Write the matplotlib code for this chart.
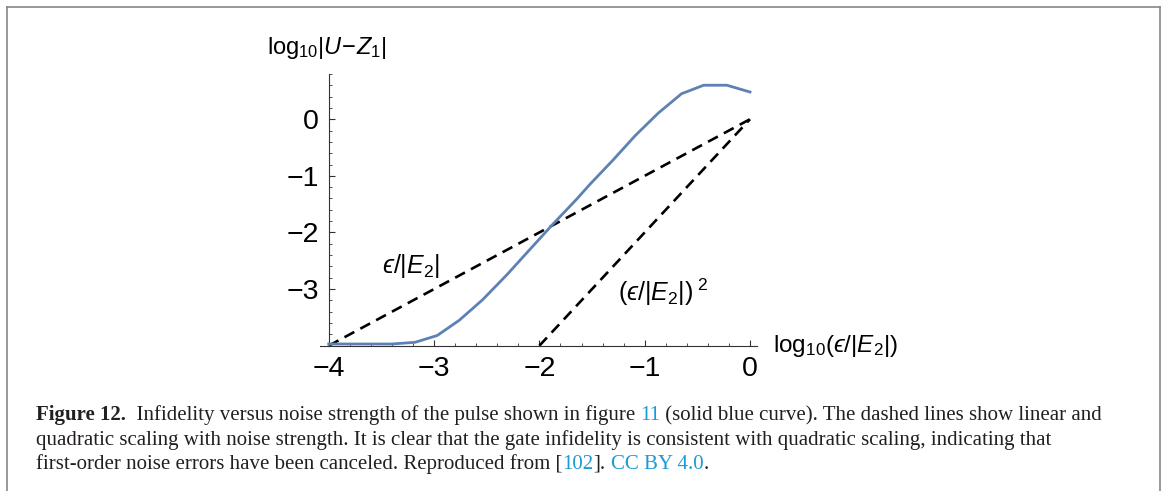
import numpy as np
import matplotlib.pyplot as plt
from matplotlib.lines import Line2D

plt.rcParams['font.family'] = ['Liberation Sans', 'DejaVu Sans']
plt.rcParams['mathtext.fontset'] = 'custom'
plt.rcParams['mathtext.rm'] = 'Liberation Sans'
plt.rcParams['mathtext.it'] = 'Liberation Sans:italic'
plt.rcParams['mathtext.fallback'] = 'stixsans'

# infidelity of the pulse (blue curve)
log_eps = [-4.0, -3.83, -3.62, -3.40, -3.18, -2.97, -2.76, -2.54, -2.31,
           -2.09, -1.87, -1.65, -1.52, -1.30, -1.09, -0.87, -0.65, -0.44,
           -0.22, 0.0]
log_infid = [-3.97, -3.97, -3.97, -3.97, -3.94, -3.82, -3.55, -3.19, -2.75,
             -2.30, -1.85, -1.42, -1.15, -0.72, -0.29, 0.11, 0.45, 0.60,
             0.60, 0.48]

# reference scalings
lin_x = [-4.0, 0.0]
lin_y = [-4.0, 0.0]
quad_x = [-2.0, 0.0]
quad_y = [-4.0, 0.0]

x_ticks = [-4, -3, -2, -1, 0]
y_ticks = [-3, -2, -1, 0]

EPS = '\u03f5'

W, H = 1165, 491
fig = plt.figure(figsize=(W / 100, H / 100), dpi=100)

# axes placed in pixel units
x0, x1 = 320.3, 757.4
y0, y1 = 73.9, 345.7
ax = fig.add_axes([x0 / W, 1 - y1 / H, (x1 - x0) / W, (y1 - y0) / H])
ax.set_xlim(-4.08, 0.07)
ax.set_ylim(-4.0, 0.8)

ax.plot(log_eps, log_infid, color='#5E81B5', lw=2.0, zorder=3,
        solid_joinstyle='miter', clip_on=False)
ax.plot(lin_x, lin_y, color='black', lw=1.9, ls=(0, (4.2, 2.6)), zorder=2,
        clip_on=False)
ax.plot(quad_x, quad_y, color='black', lw=1.9, ls=(0, (4.2, 2.6)), zorder=2,
        clip_on=False)

for s in ['top', 'right']:
    ax.spines[s].set_visible(False)
ax.spines['left'].set_position(('data', -4))
for s in ['left', 'bottom']:
    ax.spines[s].set_color('#333333')
    ax.spines[s].set_linewidth(0.8)

ax.set_xticks(x_ticks)
ax.set_xticklabels(['\u22124', '\u22123', '\u22122', '\u22121', '0'])
ax.set_yticks(y_ticks)
ax.set_yticklabels(['\u22123', '\u22122', '\u22121', '0'])
ax.set_xticks(np.arange(-4, 0.01, 0.2), minor=True)
ax.set_yticks(np.arange(-4, 0.81, 0.2), minor=True)
ax.tick_params(which='major', direction='in', length=4.2, width=0.8,
               color='#333333', labelsize=20.5)
ax.tick_params(which='minor', direction='in', length=2.4, width=0.6,
               color='#333333')
ax.tick_params(axis='x', pad=7.5)
ax.tick_params(axis='y', pad=7)
ax.patch.set_alpha(0)

ax.text(-3.22, -2.60, r'$%s/|E_2|$' % EPS, fontsize=18, ha='center',
        va='center')
ax.text(-0.825, -3.05, r'$(%s/|E_2|)^{\ 2}$' % EPS, fontsize=18,
        ha='center', va='center')

fig.text(327 / W, 1 - 48 / H, r'$\mathrm{log}_{10}|U\!-\!Z_1|$', fontsize=17,
         ha='center', va='center')
fig.text(773 / W, 1 - 346 / H, r'$\mathrm{log}_{10}(%s/|E_2|)$' % EPS,
         fontsize=17.5, ha='left', va='center')

# frame around the figure
gray = '#868686'
fig.add_artist(Line2D([7 / W, 7 / W], [0, 1 - 7 / H], color=gray, lw=1.2))
fig.add_artist(Line2D([7 / W, 1160 / W], [1 - 7 / H, 1 - 7 / H], color=gray, lw=1.2))
fig.add_artist(Line2D([1160 / W, 1160 / W], [0, 1 - 7 / H], color=gray, lw=1.2))

# caption, drawn as runs of coloured text
txt = '#231f20'
link = '#1a9ad6'
cap_lines = [
    [('Figure 12.', txt, 'bold'),
     ('  Infidelity versus noise strength of the pulse shown in figure ', txt, 'normal'),
     ('11', link, 'normal'),
     (' (solid blue curve). The dashed lines show linear and', txt, 'normal')],
    [('quadratic scaling with noise strength. It is clear that the gate infidelity '
      'is consistent with quadratic scaling, indicating that', txt, 'normal')],
    [('first-order noise errors have been canceled. Reproduced from [', txt, 'normal'),
     ('102', link, 'normal'),
     ('].', txt, 'normal'),
     (' ', txt, 'normal'),
     ('CC BY 4.0', link, 'normal'),
     ('.', txt, 'normal')],
]
baselines = [420, 445, 469]
renderer = fig.canvas.get_renderer()
for runs, yb in zip(cap_lines, baselines):
    xpos = 36
    for s, c, w in runs:
        t = fig.text(xpos / W, 1 - yb / H, s, color=c, fontweight=w,
                     family=['Liberation Serif', 'DejaVu Serif'], fontsize=15.05,
                     ha='left', va='baseline')
        bb = t.get_window_extent(renderer)
        xpos += bb.width

fig.savefig('out.png', dpi=100)
